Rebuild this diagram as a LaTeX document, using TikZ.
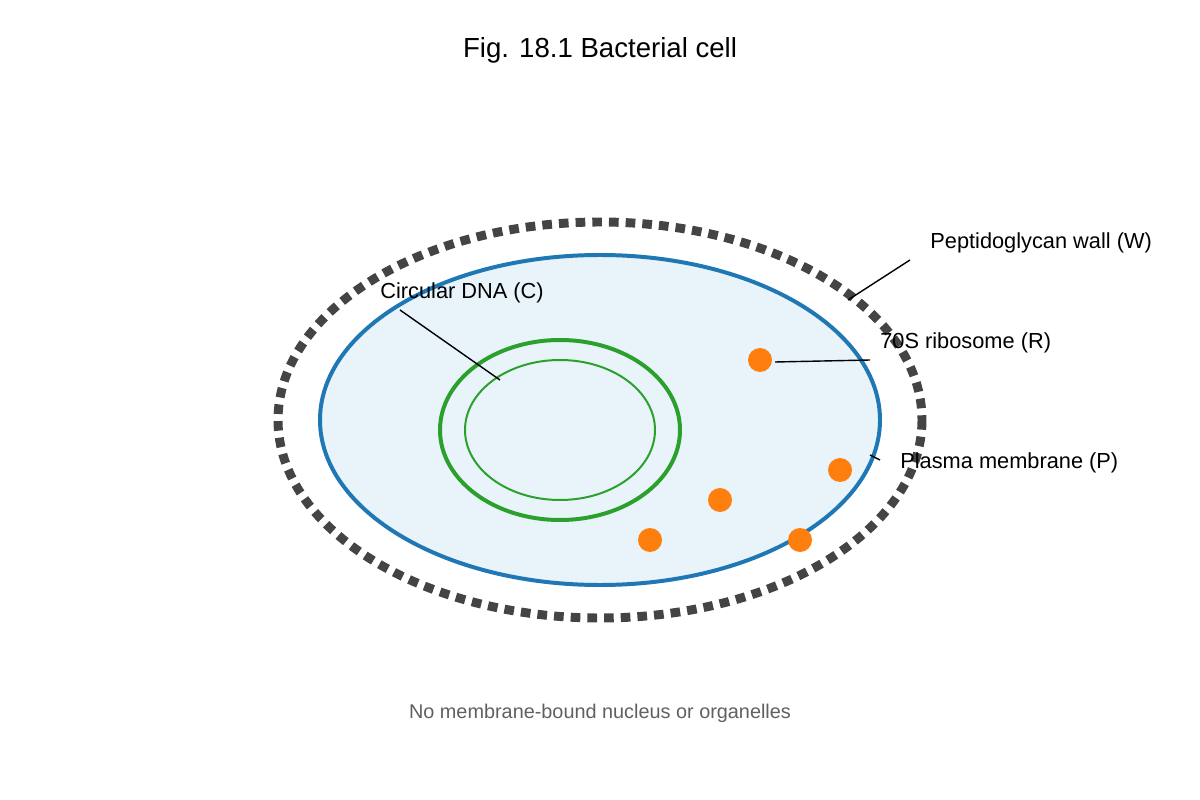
\documentclass[tikz,border=0pt]{standalone}
\usepackage{fontspec}
\setmainfont{Liberation Sans}
\definecolor{wall}{HTML}{444444}
\definecolor{memb}{HTML}{1F77B4}
\definecolor{cyto}{HTML}{E8F4FA}
\definecolor{dna}{HTML}{2CA02C}
\definecolor{ribo}{HTML}{FF7F0E}
\begin{document}
\begin{tikzpicture}[x=0.02cm,y=-0.02cm,
  lbl/.style={anchor=west,inner sep=0,font=\fontsize{12.4pt}{15pt}\selectfont},
  lead/.style={black,line width=0.8pt},
  rib/.style={circle,fill=ribo,minimum size=24*0.02cm,inner sep=0}]
\useasboundingbox (0,0) rectangle (1200,800);
\node[font=\fontsize{15.7pt}{19pt}\selectfont] (title) at (600,50) {Fig. 18.1 Bacterial cell};
\draw[wall,line width=9*0.567pt,dash pattern=on 5.5pt off 4pt] (600,420) ellipse [x radius=322,y radius=198];
\draw[memb,fill=cyto,line width=4*0.567pt] (600,420) ellipse [x radius=280,y radius=165];
\draw[dna,line width=4*0.567pt] (560,430) ellipse [x radius=120,y radius=90];
\draw[dna,line width=2*0.567pt] (560,430) ellipse [x radius=95,y radius=70];
\node[rib] (r1) at (760,360) {};
\node[rib] (r2) at (840,470) {};
\node[rib] (r3) at (720,500) {};
\node[rib] (r4) at (650,540) {};
\node[rib] (r5) at (800,540) {};
\node[lbl] (lw) at (930,243) {Peptidoglycan wall (W)};
\node[lbl] (lc) at (380,293) {Circular DNA (C)};
\node[lbl] (lr) at (880,343) {70S ribosome (R)};
\node[lbl] (lp) at (900,463) {Plasma membrane (P)};
\coordinate (w1) at (910,260); \coordinate (w2) at (848,300);
\coordinate (c1) at (400,310); \coordinate (c2) at (500,380);
\coordinate (ra) at (775,362); \coordinate (rb) at (870,360);
\coordinate (p1) at (870,455); \coordinate (p2) at (880,460);
\draw[lead] (w1) -- (w2);
\draw[lead] (c1) -- (c2);
\draw[lead] (ra) -- (rb);
\draw[lead] (p1) -- (p2);
\node[text=wall!85,font=\fontsize{11.3pt}{13pt}\selectfont] (foot) at (600,713) {No membrane-bound nucleus or organelles};
\end{tikzpicture}
\end{document}
